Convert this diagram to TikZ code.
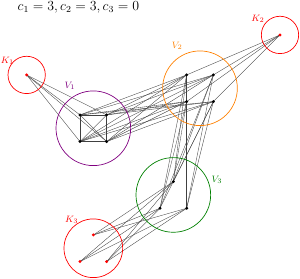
\documentclass[tikz,border=0pt]{standalone}
\usepackage{amsmath, amssymb}
\usepackage{xcolor}
\usetikzlibrary{calc}

\begin{document}
\begin{tikzpicture}[x=0.81cm, y=0.81cm,
    dot/.style={circle,fill,inner sep=1pt},
    edge/.style={line width=0.3pt, black!75},
    part/.style={line width=0.6pt},
    every node/.style={font=\footnotesize}
]
    \useasboundingbox (-3,-5.15) rectangle (8.25,5.31);

    % Vertices
    \coordinate (k1) at (-2,2.5);
    \coordinate (k2) at (7.5,4);
    \coordinate (k3a) at (0.5,-3.5);
    \coordinate (k3b) at (0,-4.5);
    \coordinate (k3c) at (1,-4.5);

    \foreach \i/\x/\y in {1/0/1, 2/1/1, 3/0/0, 4/1/0}{
        \coordinate (a\i) at (\x,\y);
    }
    \foreach \i/\x/\y in {1/4/2.5, 2/5/2.5, 3/4/1.5, 4/5/1.5}{
        \coordinate (b\i) at (\x,\y);
    }
    \foreach \i/\x/\y in {1/3.5/-1.5, 2/3/-2.5, 3/4/-2.5}{
        \coordinate (c\i) at (\x,\y);
    }

    % Edges
    \foreach \i in {1,...,4}{
        \draw[edge] (k1) -- (a\i);
        \draw[edge] (k2) -- (b\i);
        \foreach \j in {1,...,4}{
            \draw[edge] (a\i) -- (b\j);
        }
        \foreach \j in {1,2,3}{
            \draw[edge] (b\i) -- (c\j);
        }
    }
    \foreach \i/\j in {1/2,1/3,1/4,2/3,2/4,3/4}{
        \draw[edge] (a\i) -- (a\j);
    }
    \draw[edge] (b1) -- (b3);
    \foreach \i in {1,2,3}{
        \foreach \k in {a,b,c}{
            \draw[edge] (c\i) -- (k3\k);
        }
    }

    % Parts
    \draw[part, red] (k1) circle (0.7);
    \draw[part, red] (k2) circle (0.7);
    \draw[part, red] (0.5,-4) circle (1.1);
    \draw[part, violet] (0.5,0.5) circle (1.4);
    \draw[part, orange] (4.5,2) circle (1.4);
    \draw[part, green!50!black] (3.5,-2) circle (1.4);

    \foreach \v in {a1,a2,a3,a4,b1,b2,b3,b4,c1,c2,c3}{
        \node[dot] at (\v) {};
    }
    \foreach \v in {k1,k2,k3a,k3b,k3c}{
        \node[dot, red] at (\v) {};
    }

    % Labels
    \node[red] (lk1) at (-2.72,3.03) {$K_1$};
    \node[red] (lk2) at (6.67,4.6) {$K_2$};
    \node[red] (lk3) at (-0.31,-2.94) {$K_3$};
    \node[violet] (lv1) at (-0.375,2.09) {$V_1$};
    \node[orange] (lv2) at (3.64,3.59) {$V_2$};
    \node[green!50!black] (lv3) at (5.13,-1.44) {$V_3$};

    \node[font=\large, anchor=north, inner sep=0.5pt] (title) at (-0.06,5.27) {$c_1 = 3, c_2 = 3, c_3 = 0$};
\end{tikzpicture}
\end{document}
